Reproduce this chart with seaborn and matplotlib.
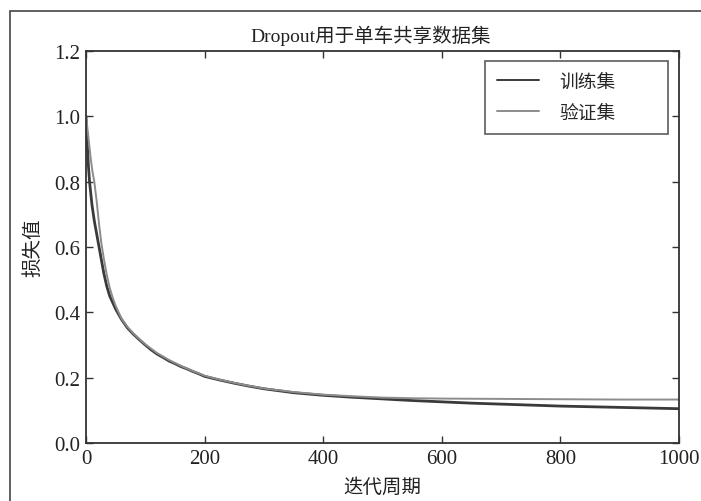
import matplotlib
matplotlib.use("Agg")
import matplotlib.pyplot as plt
from matplotlib.patches import Rectangle
import pandas as pd
import seaborn as sns

# Loss per epoch, read at selected epochs
train_epochs = [0, 2, 4, 6, 8, 10, 14, 18, 22, 26, 30, 35, 40, 45, 50, 60, 70, 80, 90,
                100, 110, 120, 130, 140, 150, 160, 170, 180, 190, 200, 225, 250, 275, 300,
                325, 350, 375, 400, 450, 500, 550, 600, 650, 700, 750, 800, 850, 900, 950, 1000]
train_loss = [1.0, 0.92, 0.85, 0.80, 0.765, 0.73, 0.68, 0.64, 0.60, 0.56, 0.52, 0.48, 0.45, 0.43, 0.41,
              0.378, 0.352, 0.333, 0.316, 0.300, 0.285, 0.272, 0.262, 0.251, 0.243, 0.234, 0.227,
              0.219, 0.212, 0.204, 0.193, 0.183, 0.174, 0.166, 0.160, 0.154, 0.150, 0.146, 0.140,
              0.135, 0.130, 0.126, 0.122, 0.119, 0.116, 0.113, 0.111, 0.109, 0.107, 0.105]

val_epochs = [0, 2, 5, 8, 11, 14, 18, 22, 26, 30, 35, 40, 45, 50, 60, 70, 80, 90, 100,
              120, 140, 160, 180, 200, 225, 250, 275, 300, 350, 400, 450, 500, 550, 600,
              700, 800, 900, 1000]
val_loss = [1.0, 0.97, 0.92, 0.87, 0.83, 0.80, 0.74, 0.67, 0.61, 0.565, 0.515, 0.475, 0.445, 0.42,
            0.38, 0.355, 0.335, 0.318, 0.302, 0.275, 0.254, 0.236, 0.220, 0.206, 0.194, 0.184,
            0.175, 0.167, 0.156, 0.148, 0.143, 0.139, 0.137, 0.136, 0.135, 0.134, 0.133, 0.133]

series_names = ["训练集", "验证集"]
series_colors = ["#3a3a3a", "#8c8c8c"]

sns.set_style("ticks")
plt.rcParams["font.family"] = ["Liberation Serif", "Noto Sans CJK SC"]
plt.rcParams["axes.unicode_minus"] = False

df = pd.concat([
    pd.DataFrame({"epoch": train_epochs, "loss": train_loss, "set": series_names[0]}),
    pd.DataFrame({"epoch": val_epochs, "loss": val_loss, "set": series_names[1]}),
])

fig = plt.figure(figsize=(7.01, 5.02), dpi=100)
ax = fig.add_axes([86 / 701, 58 / 502, 593 / 701, 392 / 502])

sns.lineplot(data=df, x="epoch", y="loss", hue="set", hue_order=series_names,
             palette=series_colors, ax=ax, linewidth=1.6, legend=False)
for line, lw in zip(ax.get_lines(), [2.0, 1.4]):
    line.set_linewidth(lw)

ax.set_xlim(0, 1000)
ax.set_ylim(0, 1.2)
ax.set_xticks([0, 200, 400, 600, 800, 1000])
ax.set_yticks([0.0, 0.2, 0.4, 0.6, 0.8, 1.0, 1.2])
ax.set_yticklabels([f"{v:.1f}" for v in ax.get_yticks()])
ax.tick_params(direction="in", length=5, width=1, color="#333333",
               top=True, right=True, labelsize=15, pad=4, labelcolor="#222222")
for s in ax.spines.values():
    s.set_linewidth(1.3)
    s.set_color("#333333")

ax.set_title("Dropout用于单车共享数据集", fontsize=14, pad=7, color="#222222", x=0.48)
ax.set_xlabel("迭代周期", fontsize=14, labelpad=7, color="#222222")
ax.set_ylabel("损失值", fontsize=14, labelpad=9, color="#222222")

handles = [plt.Line2D([], [], color=c, linewidth=1.4) for c in series_colors]
leg = ax.legend(handles, series_names, loc="upper left", mode="expand",
                bbox_to_anchor=(0.673, 0.793, 0.308, 0.181), borderaxespad=0,
                fontsize=13.5, frameon=True, fancybox=False, handlelength=2.2,
                handletextpad=1.1, borderpad=0.65, labelspacing=0.75)
leg.get_frame().set_edgecolor("#333333")
leg.get_frame().set_linewidth(1.2)

# Outer frame around the figure (left and top edges visible)
frame_left = 10 / 701
frame_top = 1 - 12 / 502
fig.add_artist(Rectangle((frame_left, -0.2), 2.0, frame_top + 0.2,
                         transform=fig.transFigure, fill=False, edgecolor="#444444",
                         linewidth=1.2))

fig.savefig("out.png", dpi=100)
